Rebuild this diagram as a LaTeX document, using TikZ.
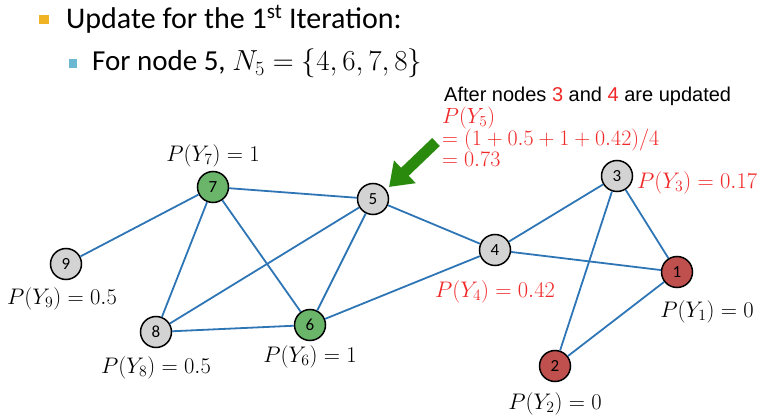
\RequirePackage{fix-cm}
\documentclass[tikz,border=0pt]{standalone}
\usepackage{fontspec}
\setmainfont{Carlito}
\newfontfamily\arialfont{Liberation Sans}
\usetikzlibrary{arrows.meta}
\definecolor{edgeblue}{HTML}{2E75B6}
\definecolor{nodegray}{HTML}{D3D3D3}
\definecolor{nodegreen}{HTML}{6BB56B}
\definecolor{nodered}{HTML}{C0504D}
\definecolor{arrowgreen}{HTML}{2A8A0E}
\definecolor{bulletorange}{HTML}{F0B323}
\definecolor{bulletblue}{HTML}{6BB8D2}
\definecolor{annored}{HTML}{F02828}
\begin{document}
\begin{tikzpicture}[x=1pt,y=-1pt,
        vertex/.style={circle,draw=black,line width=1.5pt,minimum size=31pt,inner sep=0pt,font=\fontsize{17}{17}\selectfont},
        link/.style={edgeblue,line width=1.8pt},
        prob/.style={font=\fontsize{22.5}{24}\selectfont}]
        \useasboundingbox (0,0) rectangle (768,419);

        % Bullet lines
        \fill[bulletorange] (39,15) rectangle (49,24);
        \node[anchor=base west,inner sep=0pt,font=\fontsize{30}{34}\selectfont] (title) at (66,29) {Update for the 1\textsuperscript{st} Iteration:};
        \fill[bulletblue] (69,59) rectangle (77,68);
        \node[anchor=base west,inner sep=0pt,font=\fontsize{29}{34}\selectfont] (sub) at (92,71) {For node 5, $N_5=\{4,6,7,8\}$};

        % Graph nodes
        \foreach \n/\x/\y/\col in {
            1/677/272/nodered,
            2/555/366/nodered,
            3/617/176/nodegray,
            4/495/250/nodegray,
            5/373/199/nodegray,
            6/310/325/nodegreen,
            7/213/187/nodegreen,
            8/156/332/nodegray,
            9/66/264/nodegray} {
            \node[vertex,fill=\col] (n\n) at (\x,\y) {\n};
        }

        % Edges
        \foreach \a/\b in {9/7,7/5,7/8,7/6,5/8,5/6,5/4,8/6,6/4,4/3,4/1,3/1,3/2,2/1} {
            \draw[link] (n\a) -- (n\b);
        }

        % Probability labels
        \node[prob] (p7) at (213,156) {$P(Y_7)=1$};
        \node[prob] (p9) at (62,299) {$P(Y_9)=0.5$};
        \node[prob] (p8) at (156,368) {$P(Y_8)=0.5$};
        \node[prob] (p6) at (310,357) {$P(Y_6)=1$};
        \node[prob] (p1) at (707,312) {$P(Y_1)=0$};
        \node[prob] (p2) at (555,404) {$P(Y_2)=0$};
        \node[prob,text=annored] (p4) at (495,292) {$P(Y_4)=0.42$};
        \node[prob,text=annored,anchor=west,inner sep=0pt] (p3) at (637,183) {$P(Y_3)=0.17$};

        % Annotation for node 5
        \node[anchor=base west,inner sep=0pt,font=\arialfont\fontsize{20}{22}\selectfont] (after) at (444,102)
            {After nodes \textcolor{annored}{3} and \textcolor{annored}{4} are updated};
        \node[anchor=base west,inner sep=0pt,align=left,text=annored,font=\fontsize{22}{21}\selectfont] (p5) at (442,167)
            {$P(Y_5)$\\$=(1+0.5+1+0.42)/4$\\$=0.73$};

        % Pointer arrow
        \coordinate (tail) at (436,142);
        \coordinate (tip) at (389,187);
        \draw[arrowgreen,line width=11pt,-{Triangle[width=30pt,length=22pt]}] (tail) -- (tip);
    \end{tikzpicture}
\end{document}
